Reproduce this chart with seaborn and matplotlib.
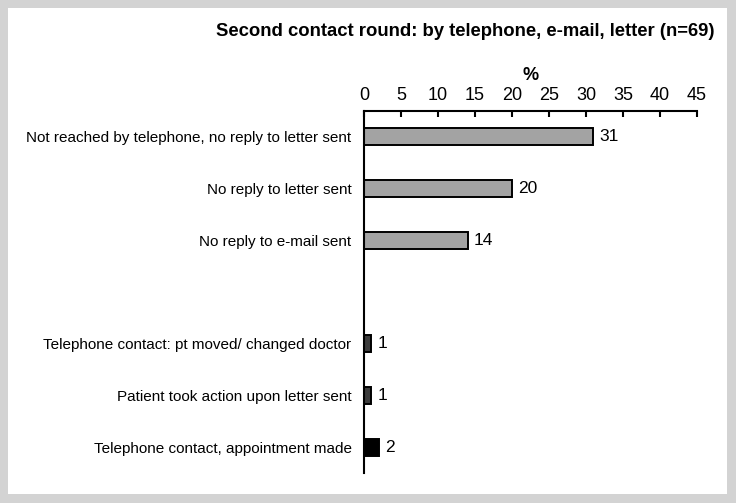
import matplotlib
matplotlib.use("Agg")
import matplotlib.pyplot as plt
from matplotlib.patches import Rectangle
import seaborn as sns
import pandas as pd

# data
labels = [
    "Not reached by telephone, no reply to letter sent",
    "No reply to letter sent",
    "No reply to e-mail sent",
    "Telephone contact: pt moved/ changed doctor",
    "Patient took action upon letter sent",
    "Telephone contact, appointment made",
]
values = [31, 20, 14, 1, 1, 2]
groups = ["no contact", "no contact", "no contact", "other", "other", "appointment"]
xticks = [0, 5, 10, 15, 20, 25, 30, 35, 40, 45]

palette = {"no contact": "#a3a3a3", "other": "#3c3c3c", "appointment": "#000000"}

df = pd.DataFrame({"label": labels, "value": values, "group": groups})
# a blank slot separates the two blocks of bars
order = labels[:3] + [" "] + labels[3:]

sns.set_theme(style="white")
plt.rcParams["font.family"] = ["Liberation Sans", "DejaVu Sans"]
plt.rcParams["text.color"] = "black"
plt.rcParams["xtick.color"] = "black"
plt.rcParams["ytick.color"] = "black"
plt.rcParams["axes.labelcolor"] = "black"

fig = plt.figure(figsize=(7.36, 5.03), dpi=100)
fig.patch.set_facecolor("#d3d3d3")
fig.add_artist(Rectangle((8 / 736, 9 / 503), 719 / 736, 486 / 503,
                         transform=fig.transFigure, facecolor="white",
                         edgecolor="none", zorder=0))

ax = fig.add_axes([364 / 736, 30 / 503, 333 / 736, 362 / 503])
ax.set_facecolor("none")

sns.barplot(data=df, x="value", y="label", hue="group", order=order,
            palette=palette, legend=False, width=0.33, edgecolor="black",
            linewidth=1.4, ax=ax)

# value labels at bar ends
for lab, val in zip(labels, values):
    ax.text(val + 0.8, order.index(lab), f"{val}", va="center", ha="left",
            fontsize=12.5)

ax.set_xlim(0, 45)
ax.set_ylim(6.5, -0.5)
ax.set_xticks(xticks)
ax.xaxis.tick_top()
ax.xaxis.set_label_position("top")
ax.tick_params(axis="x", direction="in", length=4, width=1.5, pad=5,
               labelsize=13, top=True, bottom=False, color="black")
ax.tick_params(axis="y", length=0, pad=9, labelsize=11)
ax.set_xlabel("%", fontsize=13, fontweight="bold", labelpad=5)
ax.set_ylabel("")

for side in ["right", "bottom"]:
    ax.spines[side].set_visible(False)
for side in ["left", "top"]:
    ax.spines[side].set_color("black")
    ax.spines[side].set_linewidth(1.5)

fig.text(714 / 736, 1 - 31 / 503, "Second contact round: by telephone, e-mail, letter (n=69)",
         ha="right", va="center", fontsize=13.3, fontweight="bold")

fig.savefig("out.png", dpi=100, facecolor=fig.get_facecolor())
